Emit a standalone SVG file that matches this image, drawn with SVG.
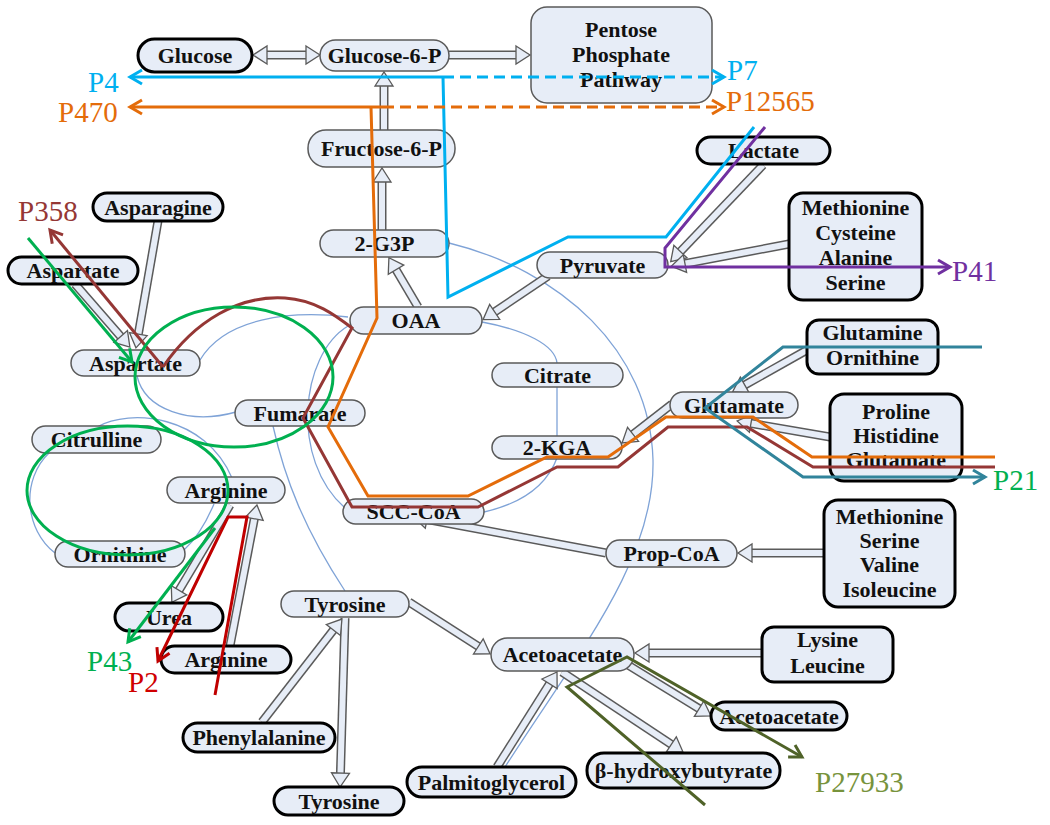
<svg xmlns="http://www.w3.org/2000/svg" width="1050" height="825" viewBox="0 0 1050 825">
<style>
.n rect{fill:#E7EDF7;stroke:#5A5A5A;stroke-width:1.5}
.x rect{fill:#E7EDF7;stroke:#000;stroke-width:3}
.t{font-family:"Liberation Serif",serif;font-weight:bold;font-size:22px;text-anchor:middle;fill:#111}
.bo{stroke:#5A5A5A;stroke-width:9;fill:none}
.bi{stroke:#E7EDF7;stroke-width:6;fill:none;marker-end:url(#bh)}
.cv{stroke:#7FA3D7;stroke-width:1.3;fill:none}
.hl{fill:none;stroke-width:3;stroke-linejoin:miter}
.lab{font-family:"Liberation Serif",serif;font-size:29px}
</style>
<defs>
<marker id="bh" markerUnits="userSpaceOnUse" viewBox="-1 -11 18 22" markerWidth="18" markerHeight="22" refX="2" refY="0" orient="auto" overflow="visible"><path d="M0,-9 L14,0 L0,9 Z" fill="#E7EDF7" stroke="#5A5A5A" stroke-width="1.3"/></marker>
<marker id="bh2" markerUnits="userSpaceOnUse" viewBox="-1 -11 18 22" markerWidth="18" markerHeight="22" refX="2" refY="0" orient="auto-start-reverse" overflow="visible"><path d="M0,-9 L14,0 L0,9 Z" fill="#E7EDF7" stroke="#5A5A5A" stroke-width="1.3"/></marker>
<marker id="aBlue" markerUnits="userSpaceOnUse" viewBox="-15 -9 17 18" markerWidth="17" markerHeight="18" refX="0" refY="0" orient="auto" overflow="visible"><path d="M-12,-7 L0,0 L-12,7" fill="none" stroke="#00B0F0" stroke-width="3"/></marker>
<marker id="aOrange" markerUnits="userSpaceOnUse" viewBox="-15 -9 17 18" markerWidth="17" markerHeight="18" refX="0" refY="0" orient="auto" overflow="visible"><path d="M-12,-7 L0,0 L-12,7" fill="none" stroke="#E46C0A" stroke-width="3"/></marker>
<marker id="aBrown" markerUnits="userSpaceOnUse" viewBox="-15 -9 17 18" markerWidth="17" markerHeight="18" refX="0" refY="0" orient="auto" overflow="visible"><path d="M-12,-7 L0,0 L-12,7" fill="none" stroke="#953735" stroke-width="3"/></marker>
<marker id="aPurple" markerUnits="userSpaceOnUse" viewBox="-15 -9 17 18" markerWidth="17" markerHeight="18" refX="0" refY="0" orient="auto" overflow="visible"><path d="M-12,-7 L0,0 L-12,7" fill="none" stroke="#7030A0" stroke-width="3"/></marker>
<marker id="aTeal" markerUnits="userSpaceOnUse" viewBox="-15 -9 17 18" markerWidth="17" markerHeight="18" refX="0" refY="0" orient="auto" overflow="visible"><path d="M-12,-7 L0,0 L-12,7" fill="none" stroke="#31849B" stroke-width="3"/></marker>
<marker id="aGreen" markerUnits="userSpaceOnUse" viewBox="-15 -9 17 18" markerWidth="17" markerHeight="18" refX="0" refY="0" orient="auto" overflow="visible"><path d="M-12,-7 L0,0 L-12,7" fill="none" stroke="#00B050" stroke-width="3"/></marker>
<marker id="aRed" markerUnits="userSpaceOnUse" viewBox="-15 -9 17 18" markerWidth="17" markerHeight="18" refX="0" refY="0" orient="auto" overflow="visible"><path d="M-12,-7 L0,0 L-12,7" fill="none" stroke="#C00000" stroke-width="3"/></marker>
<marker id="aOlive" markerUnits="userSpaceOnUse" viewBox="-15 -9 17 18" markerWidth="17" markerHeight="18" refX="0" refY="0" orient="auto" overflow="visible"><path d="M-12,-7 L0,0 L-12,7" fill="none" stroke="#4F6228" stroke-width="3"/></marker>
</defs>
<rect width="1050" height="825" fill="#fff"/>
<g id="connectors">
<g id="cycle-curves">
<path class="cv" d="M449,243 C560,270 650,350 653,460 C655,560 580,650 505,767"/>
<path class="cv" d="M482,322 C525,330 555,345 557,363"/>
<path class="cv" d="M557,387 L557,437"/>
<path class="cv" d="M557,458 C545,490 515,505 484,512"/>
<path class="cv" d="M348,326 C300,355 290,460 345,508"/>
<path class="cv" d="M348,317 C290,310 225,318 200,360"/>
<path class="cv" d="M137,376 C145,410 190,425 236,412"/>
<path class="cv" d="M273,426 C285,480 305,530 345,591"/>
<path class="cv" d="M97,427 C130,408 205,415 232,478"/>
<path class="cv" d="M50,452 C20,480 25,530 55,553"/>
<path class="cv" d="M184,550 C195,540 205,525 214,504"/>
</g>
<g id="block-arrows">
<path class="bo" d="M308,55 L265,55"/><path class="bi" style="marker-start:url(#bh2);marker-end:url(#bh2)" d="M308,55 L265,55"/>
<path class="bo" d="M449,55 L518,55"/><path class="bi" d="M449,55 L518,55"/>
<path class="bo" d="M384,130 L384,84"/><path class="bi" d="M384,130 L384,84"/>
<path class="bo" d="M382,230 L382,180"/><path class="bi" d="M382,230 L382,180"/>
<path class="bo" d="M418,307 L395,268"/><path class="bi" d="M418,307 L395,268"/>
<path class="bo" d="M548,276 L493,313"/><path class="bi" d="M548,276 L493,313"/>
<path class="bo" d="M763,165 L679,253"/><path class="bi" d="M763,165 L679,253"/>
<path class="bo" d="M789,244 L683,264"/><path class="bi" d="M789,244 L683,264"/>
<path class="bo" d="M807,350 L743,386"/><path class="bi" d="M807,350 L743,386"/>
<path class="bo" d="M830,437 L749,423"/><path class="bi" d="M830,437 L749,423"/>
<path class="bo" d="M672,404 L631.5,435.6"/><path class="bi" d="M672,404 L631.5,435.6"/>
<path class="bo" d="M606,553 L425,519"/><path class="bi" d="M606,553 L425,519"/>
<path class="bo" d="M824,553 L750,553"/><path class="bi" d="M824,553 L750,553"/>
<path class="bo" d="M158,221 L138,336"/><path class="bi" d="M158,221 L138,336"/>
<path class="bo" d="M75,284 L122,338"/><path class="bi" d="M75,284 L122,338"/>
<path class="bo" d="M230,505 L178,592"/><path class="bi" d="M230,505 L178,592"/>
<path class="bo" d="M230,646 L254.7,516.8"/><path class="bi" d="M230,646 L254.7,516.8"/>
<path class="bo" d="M345,618 L340.4,775"/><path class="bi" d="M345,618 L340.4,775"/>
<path class="bo" d="M262,722 L334.6,628.5"/><path class="bi" d="M262,722 L334.6,628.5"/>
<path class="bo" d="M409,602 L480,647.5"/><path class="bi" d="M409,602 L480,647.5"/>
<path class="bo" d="M762,653 L647,653"/><path class="bi" d="M762,653 L647,653"/>
<path class="bo" d="M628,665 L700.8,709.7"/><path class="bi" d="M628,665 L700.8,709.7"/>
<path class="bo" d="M562,672 L673,745.4"/><path class="bi" d="M562,672 L673,745.4"/>
<path class="bo" d="M497,767 L550.6,682.1"/><path class="bi" d="M497,767 L550.6,682.1"/>
</g>
</g>
<g id="n-glucose6p" class="n"><rect x="320" y="40" width="129" height="31" rx="15.5"/><text class="t" x="384.5" y="63">Glucose-6-P</text></g>
<g id="n-ppp" class="n"><rect x="531" y="7" width="181" height="96" rx="16"/><text class="t" x="621" y="37">Pentose</text><text class="t" x="621" y="62">Phosphate</text><text class="t" x="621" y="87">Pathway</text></g>
<g id="n-fructose6p" class="n"><rect x="308" y="130" width="147" height="37" rx="18"/><text class="t" x="381.5" y="156">Fructose-6-P</text></g>
<g id="n-2g3p" class="n"><rect x="320" y="230" width="129" height="27" rx="13.5"/><text class="t" x="384.5" y="251">2-G3P</text></g>
<g id="n-oaa" class="n"><rect x="350" y="307" width="132" height="27" rx="13.5"/><text class="t" x="416" y="328">OAA</text></g>
<g id="n-pyruvate" class="n"><rect x="537" y="252" width="131" height="26" rx="13"/><text class="t" x="602.5" y="272.5">Pyruvate</text></g>
<g id="n-citrate" class="n"><rect x="492" y="363" width="131" height="24" rx="12"/><text class="t" x="557.5" y="382.5">Citrate</text></g>
<g id="n-2kga" class="n"><rect x="492" y="436" width="130" height="23" rx="11.5"/><text class="t" x="557" y="455">2-KGA</text></g>
<g id="n-scccoa" class="n"><rect x="343" y="499" width="141" height="25" rx="12.5"/><text class="t" x="413.5" y="519">SCC-CoA</text></g>
<g id="n-fumarate" class="n"><rect x="235" y="400" width="130" height="26" rx="13"/><text class="t" x="300" y="420.5">Fumarate</text></g>
<g id="n-aspartate" class="n"><rect x="71" y="350" width="129" height="26" rx="13"/><text class="t" x="135.5" y="370.5">Aspartate</text></g>
<g id="n-citrulline" class="n"><rect x="32" y="426" width="129" height="27" rx="13.5"/><text class="t" x="96.5" y="447">Citrulline</text></g>
<g id="n-arginine" class="n"><rect x="167" y="477" width="118" height="26" rx="13"/><text class="t" x="226" y="497.5">Arginine</text></g>
<g id="n-ornithine" class="n"><rect x="55" y="541" width="130" height="26" rx="13"/><text class="t" x="120" y="561.5">Ornithine</text></g>
<g id="n-glutamate" class="n"><rect x="670" y="392" width="128" height="26" rx="13"/><text class="t" x="734" y="412.5">Glutamate</text></g>
<g id="n-propcoa" class="n"><rect x="606" y="540" width="131" height="27" rx="13.5"/><text class="t" x="671.5" y="561">Prop-CoA</text></g>
<g id="n-tyrosine" class="n"><rect x="281" y="591" width="128" height="26" rx="13"/><text class="t" x="345" y="611.5">Tyrosine</text></g>
<g id="n-acetoacetate" class="n"><rect x="491" y="638" width="143" height="33" rx="16.5"/><text class="t" x="562.5" y="662">Acetoacetate</text></g>
<g id="x-glucose" class="x"><rect x="138" y="39" width="114" height="33" rx="16.5"/><text class="t" x="195" y="63">Glucose</text></g>
<g id="x-asparagine" class="x"><rect x="93" y="193" width="130" height="28" rx="14"/><text class="t" x="158" y="214.5">Asparagine</text></g>
<g id="x-aspartate" class="x"><rect x="8" y="257" width="130" height="27" rx="13.5"/><text class="t" x="73" y="278">Aspartate</text></g>
<g id="x-lactate" class="x"><rect x="697" y="137" width="133" height="27" rx="13.5"/><text class="t" x="763.5" y="158">Lactate</text></g>
<g id="x-mcas" class="x"><rect x="789" y="193" width="133" height="107" rx="14"/><text class="t" x="855.5" y="215">Methionine</text><text class="t" x="855.5" y="240">Cysteine</text><text class="t" x="855.5" y="265">Alanine</text><text class="t" x="855.5" y="290">Serine</text></g>
<g id="x-glnorn" class="x"><rect x="807" y="320" width="131" height="54" rx="12"/><text class="t" x="872.5" y="340">Glutamine</text><text class="t" x="872.5" y="365">Ornithine</text></g>
<g id="x-phg" class="x"><rect x="830" y="394" width="132" height="87" rx="14"/><text class="t" x="896" y="419">Proline</text><text class="t" x="896" y="443">Histidine</text><text class="t" x="896" y="467">Glutamate</text></g>
<g id="x-msvi" class="x"><rect x="824" y="500" width="131" height="107" rx="14"/><text class="t" x="889.5" y="524">Methionine</text><text class="t" x="889.5" y="548">Serine</text><text class="t" x="889.5" y="572">Valine</text><text class="t" x="889.5" y="597">Isoleucine</text></g>
<g id="x-lysleu" class="x"><rect x="762" y="627" width="131" height="55" rx="12"/><text class="t" x="827.5" y="647">Lysine</text><text class="t" x="827.5" y="673">Leucine</text></g>
<g id="x-acetoacetate" class="x"><rect x="711" y="702" width="136" height="28" rx="14"/><text class="t" x="779" y="723.5">Acetoacetate</text></g>
<g id="x-bhb" class="x"><rect x="587" y="753" width="193" height="35" rx="17"/><text class="t" x="683.5" y="778">β-hydroxybutyrate</text></g>
<g id="x-palmitoglycerol" class="x"><rect x="407" y="767" width="169" height="30" rx="15"/><text class="t" x="491.5" y="789.5">Palmitoglycerol</text></g>
<g id="x-tyrosine" class="x"><rect x="274" y="787" width="130" height="28" rx="14"/><text class="t" x="339" y="808.5">Tyrosine</text></g>
<g id="x-phenylalanine" class="x"><rect x="183" y="723" width="152" height="29" rx="14.5"/><text class="t" x="259" y="745">Phenylalanine</text></g>
<g id="x-urea" class="x"><rect x="115" y="603" width="108" height="28" rx="14"/><text class="t" x="169" y="624.5">Urea</text></g>
<g id="x-arginine" class="x"><rect x="161" y="646" width="130" height="27" rx="13.5"/><text class="t" x="226" y="667">Arginine</text></g>
<g id="pathways">
<g id="p4-p7" stroke="#00B0F0">
<path class="hl" d="M443,77 L130,77" marker-end="url(#aBlue)"/>
<path class="hl" d="M443,77 L724,77" stroke-dasharray="11,6" marker-end="url(#aBlue)"/>
<path class="hl" d="M443,77 L448,297 L568,237 L666,237 L754,127"/>
</g>
<g id="p470-p12565" stroke="#E46C0A">
<path class="hl" d="M383,107 L130,107" marker-end="url(#aOrange)"/>
<path class="hl" d="M383,107 L724,107" stroke-dasharray="11,6" marker-end="url(#aOrange)"/>
<path class="hl" d="M371,107 L377,318 L328,427 L368,496 L468,496 L547,457 L608,457 L666,417 L753,417 L812,457 L995,457"/>
</g>
<g id="p358" stroke="#953735">
<path class="hl" d="M163,367 L50,230" marker-end="url(#aBrown)"/>
<path class="hl" d="M163,367 C195,320 240,295 285,298 C315,300 335,315 352,328 L303,418 L352,507 L478,507 L557,467 L618,467 L668,427 L747,427 L813,467 L995,467"/>
</g>
<g id="p41" stroke="#7030A0">
<path class="hl" d="M765,127 L665,248 L665,267 L950,267" marker-end="url(#aPurple)"/>
</g>
<g id="p21" stroke="#31849B">
<path class="hl" d="M982,347 L783,347 L705,408 L803,477 L985,477" marker-end="url(#aTeal)"/>
</g>
<g id="p43" stroke="#00B050">
<path class="hl" d="M28,238 L132,362" marker-end="url(#aGreen)"/>
<ellipse class="hl" cx="234" cy="377" rx="99" ry="70"/>
<ellipse class="hl" cx="127.5" cy="490.5" rx="100.5" ry="64.5"/>
<path class="hl" d="M215,528 L128,642" marker-end="url(#aGreen)"/>
</g>
<g id="p2" stroke="#C00000">
<path class="hl" d="M215,695 L247,517 L228,517 L158,661" marker-end="url(#aRed)"/>
</g>
<g id="p27933" stroke="#4F6228">
<path class="hl" d="M705,805 L567,687 L627,657 L802,757" marker-end="url(#aOlive)"/>
</g>
</g>
<g id="labels" class="lab">
<text x="88" y="92" fill="#00B0F0">P4</text>
<text x="58" y="122" fill="#E46C0A">P470</text>
<text x="727" y="80" fill="#00B0F0">P7</text>
<text x="726" y="111" fill="#E46C0A">P12565</text>
<text x="18" y="221" fill="#953735">P358</text>
<text x="952" y="281" fill="#7030A0">P41</text>
<text x="993" y="490" fill="#00B050">P21</text>
<text x="87" y="671" fill="#00B050">P43</text>
<text x="128" y="692" fill="#D00000">P2</text>
<text x="815" y="792" fill="#77933C">P27933</text>
</g>
</svg>
